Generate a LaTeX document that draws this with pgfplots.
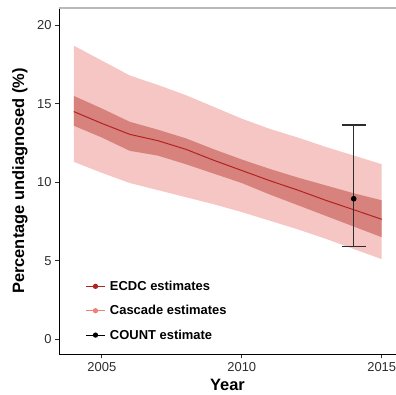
\documentclass[border=0pt]{standalone}
\usepackage{pgfplots}
\pgfplotsset{compat=1.18}
\usepackage{pgfplotstable}
\usepgfplotslibrary{fillbetween}
\usepackage{fontspec}
\setmainfont{Liberation Sans}
\definecolor{outerband}{RGB}{245,198,195}
\definecolor{innerband}{RGB}{216,130,126}
\definecolor{ecdc}{RGB}{178,34,34}
\definecolor{cascade}{RGB}{240,128,120}
\definecolor{axgray}{RGB}{45,45,45}

\pgfplotstableread{
year outlo outhi inlo inhi mid
2004 11.30 18.70 13.60 15.50 14.50
2005 10.60 17.75 12.85 14.70 13.75
2006  9.95 16.80 12.00 13.85 13.05
2007  9.50 16.20 11.70 13.35 12.65
2008  9.05 15.55 11.15 12.80 12.10
2009  8.60 14.80 10.55 12.10 11.40
2010  8.10 14.05  9.95 11.45 10.75
2011  7.55 13.40  9.22 10.85 10.10
2012  7.00 12.85  8.54 10.30  9.50
2013  6.40 12.25  7.86  9.80  8.85
2014  5.75 11.70  7.18  9.30  8.25
2015  5.10 11.15  6.50  8.85  7.64
}\bandtable

\begin{document}
\begin{tikzpicture}
\begin{axis}[
  at={(0,0)}, anchor=south west,
  scale only axis, width=337bp, height=346bp,
  xmin=2003.47, xmax=2015.51,
  ymin=-0.94, ymax=21.1,
  axis x line*=bottom, axis y line*=left,
  axis line style={line width=0.8bp, black},
  xtick={2005,2010,2015}, ytick={0,5,10,15,20},
  tick align=outside, major tick length=4bp,
  tick style={axgray, line width=0.8bp},
  /pgf/number format/assume math mode=true,
  /pgf/number format/1000 sep={},
  ticklabel style={font=\fontsize{13}{13}\selectfont, text=axgray},
  xticklabel style={yshift=-0.5bp},
  xlabel={\textbf{Year}}, ylabel={\textbf{Percentage undiagnosed (\%)}},
  label style={font=\fontsize{16.5}{16.5}\selectfont},
  xlabel style={at={(axis description cs:0.5,-0.0896)}, anchor=center},
  ylabel style={at={(axis description cs:-0.1157,0.5)}, anchor=center},
  clip=false,
  legend style={at={(axis description cs:0.078,0.034)}, anchor=south west,
    draw=none, fill=none, inner sep=0pt,
    font=\bfseries\fontsize{13}{13}\selectfont,
    row sep=10.5bp, column sep=3bp, nodes={inner sep=1.5bp}},
  legend cell align=left,
  legend image code/.code={\draw[#1] (0bp,0bp) -- (19bp,0bp); \fill[#1] (9.5bp,0bp) circle (2.1bp);},
]
\addplot[name path=oh, draw=none, forget plot] table[x=year,y=outhi]{\bandtable};
\addplot[name path=ol, draw=none, forget plot] table[x=year,y=outlo]{\bandtable};
\addplot[outerband, forget plot] fill between[of=oh and ol];
\addplot[name path=ih, draw=none, forget plot] table[x=year,y=inhi]{\bandtable};
\addplot[name path=il, draw=none, forget plot] table[x=year,y=inlo]{\bandtable};
\addplot[innerband, forget plot] fill between[of=ih and il];
\addplot[ecdc, line width=1bp, forget plot] table[x=year,y=mid]{\bandtable};
\addplot[axgray, line width=1.2bp, mark=*, mark size=2.2bp, mark options={black},
  forget plot,
  error bars/.cd, y dir=both, y explicit,
  error bar style={axgray, line width=1.2bp},
  error mark options={rotate=90, mark size=12bp, line width=1.2bp, axgray}]
  coordinates {(2014,8.95) += (0,4.70) -= (0,3.05)};
\draw[gray!55, line width=1.2bp] (rel axis cs:0,1) -- (rel axis cs:1.05,1);
\addlegendimage{ecdc, line width=1bp}
\addlegendentry{ECDC estimates}
\addlegendimage{cascade, line width=1bp}
\addlegendentry{Cascade estimates}
\addlegendimage{black, line width=1bp}
\addlegendentry{COUNT estimate}
\end{axis}
\pgfresetboundingbox
\path[use as bounding box] (-59bp,-41bp) rectangle (337bp,354bp);
\end{tikzpicture}
\end{document}
